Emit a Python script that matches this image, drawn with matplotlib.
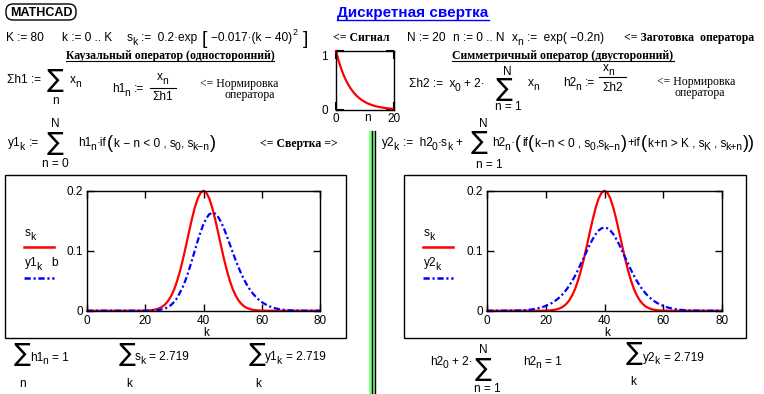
import re
import matplotlib
matplotlib.use("Agg")
import matplotlib.pyplot as plt
from matplotlib.patches import Rectangle, FancyBboxPatch

plt.rcParams['font.family'] = ['Liberation Sans', 'DejaVu Sans']
plt.rcParams['lines.scale_dashes'] = False

# ---- data ----
k = list(range(81))
s_k = [0, 0, 0, 0, 0, 0, 0, 0, 0, 0,
       0, 0, 0, 0, 0, 0, 0, 0, 0, 0.0001,
       0.0002, 0.0004, 0.0008, 0.0015, 0.0026, 0.0044, 0.0071, 0.0113, 0.0173, 0.0256,
       0.0365, 0.0505, 0.0674, 0.0869, 0.1085, 0.1308, 0.1524, 0.1716, 0.1869, 0.1966,
       0.2,
       0.1966, 0.1869, 0.1716, 0.1524, 0.1308, 0.1085, 0.0869, 0.0674, 0.0505, 0.0365,
       0.0256, 0.0173, 0.0113, 0.0071, 0.0044, 0.0026, 0.0015, 0.0008, 0.0004, 0.0002,
       0.0001, 0, 0, 0, 0, 0, 0, 0, 0, 0,
       0, 0, 0, 0, 0, 0, 0, 0, 0, 0]
y1_k = [0, 0, 0, 0, 0, 0, 0, 0, 0, 0,
        0, 0, 0, 0, 0, 0, 0, 0, 0, 0,
        0, 0.0001, 0.0002, 0.0005, 0.0009, 0.0015, 0.0025, 0.0041, 0.0066, 0.0101,
        0.0150, 0.0216, 0.0311, 0.0406, 0.0532, 0.0677, 0.0834, 0.0999, 0.1162, 0.1313,
        0.1443,
        0.1543, 0.1608, 0.1632, 0.1617, 0.1564, 0.1480, 0.1372, 0.1247, 0.1113, 0.0978,
        0.0847, 0.0724, 0.0612, 0.0511, 0.0424, 0.0348, 0.0283, 0.0229, 0.0183, 0.0145,
        0.0113, 0.0087, 0.0066, 0.0049, 0.0036, 0.0026, 0.0018, 0.0013, 0.0008, 0.0006,
        0.0004, 0.0002, 0.0001, 0.0001, 0, 0, 0, 0, 0, 0]
y2_k = [0, 0, 0, 0, 0, 0, 0, 0.0001, 0.0001, 0.0002,
        0.0003, 0.0004, 0.0007, 0.0010, 0.0014, 0.0020, 0.0027, 0.0036, 0.0048, 0.0062,
        0.0080, 0.0101, 0.0126, 0.0157, 0.0194, 0.0237, 0.0288, 0.0348, 0.0418, 0.0496,
        0.0584, 0.0681, 0.0790, 0.0891, 0.0998, 0.1102, 0.1195, 0.1275, 0.1336, 0.1373,
        0.1387,
        0.1373, 0.1336, 0.1275, 0.1195, 0.1102, 0.0998, 0.0891, 0.0790, 0.0681, 0.0584,
        0.0496, 0.0418, 0.0348, 0.0288, 0.0237, 0.0194, 0.0157, 0.0126, 0.0101, 0.0080,
        0.0062, 0.0048, 0.0036, 0.0027, 0.0020, 0.0014, 0.0010, 0.0007, 0.0004, 0.0003,
        0.0002, 0.0001, 0.0001, 0, 0, 0, 0, 0, 0, 0]
n = list(range(21))
x_n = [1.0, 0.8187, 0.6703, 0.5488, 0.4493, 0.3679, 0.3012, 0.2466, 0.2019, 0.1653,
       0.1353, 0.1108, 0.0907, 0.0743, 0.0608, 0.0498, 0.0408, 0.0334, 0.0273, 0.0224,
       0.0183]
k_ticks = [0, 20, 40, 60, 80]
s_ticks = [0, 0.1, 0.2]
s_ticklabels = ['0', '0.1', '0.2']

RED = '#ff0000'
BLUE = '#0000ff'
DASHDOT = (0, (4.5, 2, 1.5, 2))
MS = 8.6          # math font size
SUB = 7.4         # subscript size
SERIF = 'Liberation Serif'

W, H = 764, 394
fig = plt.figure(figsize=(W / 100, H / 100), dpi=100)
ax0 = fig.add_axes([0, 0, 1, 1])
ax0.set_xlim(0, W)
ax0.set_ylim(H, 0)
ax0.axis('off')
R = fig.canvas.get_renderer()


def t(x, y, s, size=MS, ha='left', va='baseline', **kw):
    return ax0.text(x, y, s, fontsize=size, ha=ha, va=va, **kw)


def pieces(s):
    # "s_{k}" -> subscript, "^{2}" -> superscript
    out = []
    for tok in re.split(r'(_\{[^}]*\}|\^\{[^}]*\})', s):
        if not tok:
            continue
        if tok.startswith('_{'):
            out.append((tok[2:-1], SUB, 3.5))
        elif tok.startswith('^{'):
            out.append((tok[2:-1], 6.5, -6))
        else:
            out.append((tok, MS, 0))
    return out


def flow(x, y, parts, gap=0.6, **kw):
    if isinstance(parts, str):
        parts = [parts]
    items = []
    for p in parts:
        items += pieces(p) if isinstance(p, str) else [p]
    for s, size, dy in items:
        if dy > 0 and size < MS:
            x -= 1.6        # subscripts sit close to their base letter
        sp = 0.278 * size * 100 / 72
        lead = len(s) - len(s.lstrip(' '))
        trail = len(s) - len(s.rstrip(' '))
        x += lead * sp
        core = s.strip(' ')
        if core:
            txt = t(x, y + dy, core, size=size, **kw)
            x += txt.get_window_extent(R).width + gap
        x += trail * sp
    return x


def bigsum(x, y):
    ax0.text(x, y, '\u2211', fontsize=18, family='DejaVu Sans', ha='center', va='center')


def underline(txt, dy=2, color='black', lw=0.8):
    bb = txt.get_window_extent(R)
    yl = txt.get_position()[1] + dy
    ax0.plot([bb.x0, bb.x1], [yl, yl], color=color, lw=lw)


def px_axes(x0, y0, x1, y1):
    return fig.add_axes([x0 / W, 1 - y1 / H, (x1 - x0) / W, (y1 - y0) / H])


BIGL = ('(', 13, 2)
BIGR = (')', 13, 2)

# ---- header ----
ax0.add_patch(FancyBboxPatch((6, 4), 70, 16, boxstyle='round,pad=0,rounding_size=7',
                             fc='white', ec='black', lw=1))
t(41, 12.5, 'MATHCAD', size=9, ha='center', va='center', weight='bold')
title = t(413, 17, 'Дискретная свертка', size=11, ha='center', color=BLUE, weight='bold')
underline(title, dy=2.5, color=BLUE, lw=1)

# signal and operator definitions
flow(6, 41, 'K := 80')
flow(62, 41, 'k := 0 .. K')
flow(127, 41, ['s_{k} :=  0.2·exp ', ('[', 14, 2.5), ' \u22120.017·(k \u2212 40)',
               ('2', 6.5, -6), (' ]', 14, 2.5)])
t(333, 41, '<= Сигнал', size=8.5, family=SERIF, weight='bold')
flow(407, 41, 'N := 20')
flow(453, 41, 'n := 0 .. N')
flow(512, 41, 'x_{n} :=  exp( \u22120.2n)')
t(624, 41, '<= Заготовка  оператора', size=8.5, family=SERIF, weight='bold')

h1 = t(170, 59, 'Каузальный оператор (односторонний)', size=8.5, ha='center',
       family=SERIF, weight='bold')
underline(h1, dy=2)
h2 = t(563, 59, 'Симметричный оператор (двусторонний)', size=8.5, ha='center',
       family=SERIF, weight='bold')
underline(h2, dy=2)

# normalisation, left
flow(7, 83, 'Σh1 := ')
bigsum(55, 80)
t(55, 104, 'n', ha='center')
flow(70, 83, 'x_{n}')
flow(112, 92, 'h1_{n} :=')
flow(157, 80, 'x_{n}')
ax0.plot([150, 176], [87.5, 87.5], color='black', lw=0.8)
flow(152, 100, 'Σh1')
t(200, 87, '<= Нормировка', size=8.5, family=SERIF)
t(250, 98, 'оператора', size=8.5, ha='center', family=SERIF)

# normalisation, right
flow(409, 87, 'Σh2 :=  x_{0} + 2·')
t(507, 75, 'N', ha='center')
bigsum(504, 88.5)
t(508, 110, 'n = 1', ha='center')
flow(528, 86, 'x_{n}')
flow(563, 86, 'h2_{n} :=')
flow(603, 71, 'x_{n}')
ax0.plot([599, 626], [77, 77], color='black', lw=0.8)
flow(602, 91, 'Σh2')
t(657, 85, '<= Нормировка', size=8.5, family=SERIF)
t(700, 96, 'оператора', size=8.5, ha='center', family=SERIF)

# small plot of the operator x_n
axs = px_axes(336, 51, 394, 110)
axs.plot(n, x_n, color=RED, lw=1.6, clip_on=False)
axs.set_xlim(0, 20)
axs.set_ylim(0, 1)
axs.set_xticks([0, 20])
axs.set_yticks([0, 1])
axs.tick_params(direction='in', top=True, right=True, length=6, width=1.5,
                labelsize=8.5, pad=2)
axs.tick_params(axis='y', pad=6)
axs.get_yticklabels()[1].set_va('top')
axs.set_xlabel('n', fontsize=8.5)
axs.xaxis.set_label_coords(0.55, -0.04)
for sp in axs.spines.values():
    sp.set_linewidth(1)
flow(374, 70, 'x_{n}')

# convolution formulas
flow(8, 146, 'y1_{k} :=')
t(55, 127, 'N', ha='center')
bigsum(55, 143)
t(55, 167, 'n = 0', ha='center')
flow(78, 146, ['h1_{n}·if', BIGL, 'k \u2212 n < 0 , s_{0}, s_{k\u2212n}', BIGR])
t(260, 147, '<= Свертка =>', size=8.5, family=SERIF, weight='bold')

flow(382, 146, 'y2_{k} :=  h2_{0}·s_{k} +')
t(483, 127, 'N', ha='center')
bigsum(479, 142)
t(489, 168, 'n = 1', ha='center')
flow(492, 146, ['h2_{n}·', BIGL, 'if', BIGL, 'k\u2212n < 0 , s_{0},s_{k\u2212n}', BIGR,
                '+if', BIGL, 'k+n > K , s_{K} , s_{k+n}', ('))', 13, 2)], gap=0.6)

# green separator
ax0.add_patch(Rectangle((369, 131), 7, H - 131, fc='#80ff80', ec='none'))
ax0.plot([371.5, 371.5], [131, H], color='black', lw=1)
ax0.plot([374.5, 374.5], [131, H], color='black', lw=1)


# ---- convolution graphs ----
def conv_plot(frame, box, series, name, leg_x):
    ax0.add_patch(Rectangle((frame[0], frame[1]), frame[2] - frame[0], frame[3] - frame[1],
                            fc='none', ec='black', lw=1))
    ax = px_axes(*box)
    ax.plot(k, s_k, color=RED, lw=1.6, clip_on=False)
    ax.plot(k, series, color=BLUE, lw=1.6, ls=DASHDOT, clip_on=False)
    ax.set_xlim(0, 80)
    ax.set_ylim(0, 0.2)
    ax.set_xticks(k_ticks)
    ax.set_yticks(s_ticks)
    ax.set_yticklabels(s_ticklabels)
    ax.tick_params(direction='in', top=True, right=True, length=5, width=1,
                   labelsize=8.5, pad=3)
    ax.set_xlabel('k', fontsize=8.5)
    ax.xaxis.set_label_coords(0.51, -0.14)
    for sp in ax.spines.values():
        sp.set_linewidth(1)
    # MathCAD style legend: trace name above its line sample
    flow(leg_x + 1, 236, 's_{k}')
    ax0.plot([leg_x, leg_x + 30], [247, 247], color=RED, lw=1.8)
    flow(leg_x + 1, 266, name)
    ax0.plot([leg_x, leg_x + 30], [278, 278], color=BLUE, lw=1.8, ls=DASHDOT)
    return ax


conv_plot((5, 175, 346, 338), (87, 190.7, 320, 310.7), y1_k, 'y1_{k}', 24)
t(51, 266, 'b')
conv_plot((404, 175, 746, 338), (487, 190.7, 722, 310.7), y2_k, 'y2_{k}', 423)

# ---- check sums ----
bigsum(22, 354)
t(22, 387, 'n', ha='center')
flow(30, 361, 'h1_{n} = 1')
bigsum(127, 354)
t(129, 387, 'k', ha='center')
flow(135, 360, 's_{k} = 2.719')
bigsum(257, 354)
t(258, 387, 'k', ha='center')
flow(265, 360, 'y1_{k} = 2.719')

flow(430, 365, 'h2_{0} + 2·')
t(483, 353, 'N', ha='center')
bigsum(483, 369)
t(487, 392, 'n = 1', ha='center')
flow(523, 365, 'h2_{n} = 1')
bigsum(634, 353)
t(633, 385, 'k', ha='center')
flow(643, 361, 'y2_{k} = 2.719')

fig.savefig('out.png', dpi=100)
